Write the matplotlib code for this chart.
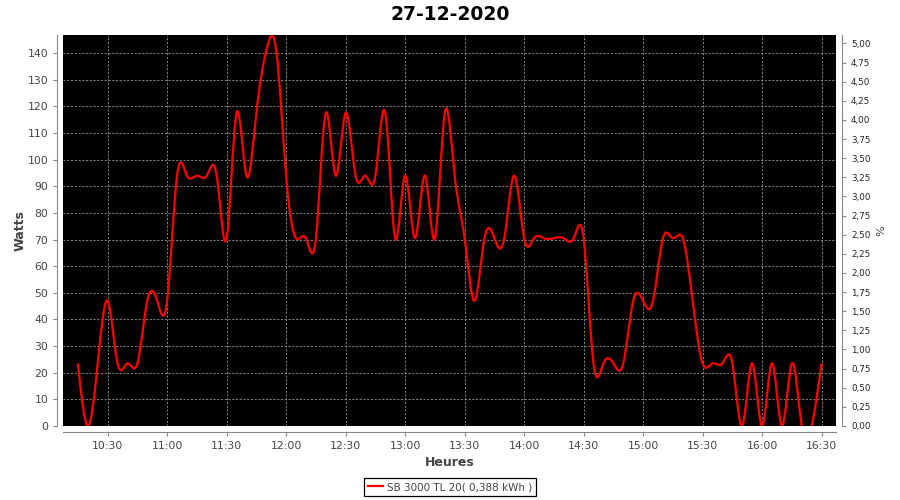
#!/usr/bin/env python3
"""Production du jour 27-12-2020 — courbe lissée (spline naturelle) façon JFreeChart."""

import matplotlib
matplotlib.use("Agg")
import matplotlib.pyplot as plt
import matplotlib.dates as mdates
import numpy as np
import pandas as pd
from matplotlib.lines import Line2D
from matplotlib.patches import PathPatch
from matplotlib.path import Path
from matplotlib.ticker import FuncFormatter

# ── données : une mesure toutes les 5 minutes, 10:15 → 16:30 ──
times = pd.date_range("2020-12-27 10:15", "2020-12-27 16:30", freq="5min")
watts = [
    23.5, 0, 23.5, 47, 23.5, 23.5, 23.5, 47, 47,               # 10:15 - 10:55
    47, 94, 94, 94, 94, 94, 70.5, 117.5, 94, 117.5, 141, 141,  # 11:00 - 11:55
    94, 70.5, 70.5, 70.5, 117.5, 94, 117.5, 94, 94, 94, 117.5, 70.5,  # 12:xx
    94, 70.5, 94, 70.5, 117.5, 94, 70.5, 47, 70.5, 70.5, 70.5, 94,    # 13:xx
    70.5, 70.5, 70.5, 70.5, 70.5, 70.5, 70.5, 23.5, 23.5, 23.5, 23.5, 47,  # 14:xx
    47, 47, 70.5, 70.5, 70.5, 47, 23.5, 23.5, 23.5, 23.5, 0, 23.5,    # 15:xx
    0, 23.5, 0, 23.5, 0, 0, 23.5,                              # 16:00 - 16:30
]
watt_ticks = list(range(0, 141, 10))
pct_ticks = [0, 0.25, 0.5, 0.75, 1, 1.25, 1.5, 1.75, 2, 2.25, 2.5, 2.75,
             3, 3.25, 3.5, 3.75, 4, 4.25, 4.5, 4.75, 5]
title = "27-12-2020"
serie_label = "SB 3000 TL 20( 0,388 kWh )"

TXT = "#444444"
AXE = "#888888"


def spline_path(x, y):
    """Spline cubique naturelle -> segments de Bézier (comme XYSplineRenderer)."""
    x = np.asarray(x, float)
    y = np.asarray(y, float)
    n = len(x)
    h = np.diff(x)
    A = np.zeros((n, n))
    r = np.zeros(n)
    A[0, 0] = A[-1, -1] = 1.0
    for i in range(1, n - 1):
        A[i, i - 1] = h[i - 1]
        A[i, i] = 2 * (h[i - 1] + h[i])
        A[i, i + 1] = h[i]
        r[i] = 6 * ((y[i + 1] - y[i]) / h[i] - (y[i] - y[i - 1]) / h[i - 1])
    M = np.linalg.solve(A, r)
    d = np.empty(n)
    d[:-1] = (y[1:] - y[:-1]) / h - h * (2 * M[:-1] + M[1:]) / 6
    d[-1] = (y[-1] - y[-2]) / h[-1] + h[-1] * (M[-2] + 2 * M[-1]) / 6

    verts = [(x[0], y[0])]
    codes = [Path.MOVETO]
    for i in range(n - 1):
        verts += [(x[i] + h[i] / 3, y[i] + h[i] * d[i] / 3),
                  (x[i + 1] - h[i] / 3, y[i + 1] - h[i] * d[i + 1] / 3),
                  (x[i + 1], y[i + 1])]
        codes += [Path.CURVE4] * 3
    return Path(verts, codes)


fig = plt.figure(figsize=(9, 5), dpi=100)
ax = fig.add_axes([0.07, 0.148, 0.8594, 0.782])
ax.set_facecolor("black")

xnum = mdates.date2num(times.to_pydatetime())
curve = PathPatch(spline_path(xnum, watts), facecolor="none", edgecolor="#ff0000",
                  linewidth=1.6, zorder=3, transform=ax.transData)
ax.add_patch(curve)

# marges de 2 % de chaque côté, comme JFreeChart
span = xnum[-1] - xnum[0]
ax.set_xlim(xnum[0] - 0.02 * span, xnum[-1] + 0.02 * span)
ax.set_ylim(0, 146.8)
ax.set_yticks(watt_ticks)
ax.xaxis.set_major_locator(mdates.MinuteLocator(byminute=[0, 30]))
ax.xaxis.set_major_formatter(mdates.DateFormatter("%H:%M"))

ax.grid(True, color="#9a9a9a", linewidth=0.6, linestyle=(0, (2.5, 2)))

for side in ("top", "right"):
    ax.spines[side].set_visible(False)
for side in ("left", "bottom"):
    ax.spines[side].set_position(("outward", 4))
    ax.spines[side].set_color(AXE)
ax.tick_params(colors=AXE, labelcolor=TXT, labelsize=7.8, length=3, width=0.8)

ax.set_xlabel("Heures", fontsize=9, fontweight="bold", color=TXT, labelpad=4)
ax.set_ylabel("Watts", fontsize=9, fontweight="bold", color=TXT, labelpad=1)

# axe de droite en %
ax2 = ax.twinx()
ax2.set_ylim(0, 5.11)
ax2.set_yticks(pct_ticks)
ax2.yaxis.set_major_formatter(FuncFormatter(lambda v, _: f"{v:.2f}".replace(".", ",")))
for side in ("top", "left", "bottom"):
    ax2.spines[side].set_visible(False)
ax2.spines["right"].set_position(("outward", 4))
ax2.spines["right"].set_color(AXE)
ax2.tick_params(colors=AXE, labelcolor="#222222", labelsize=6.3, length=3, width=0.8)
ax2.set_ylabel("%", fontsize=8, color=TXT, labelpad=4)

fig.suptitle(title, fontsize=13.5, fontweight="bold", color="black", y=0.99)

handle = Line2D([], [], color="#ff0000", linewidth=1.6)
leg = fig.legend([handle], [serie_label], loc="center", bbox_to_anchor=(0.5, 0.026),
                 fancybox=False, framealpha=1, edgecolor="black", fontsize=7.5,
                 handlelength=1.4, handletextpad=0.4, borderpad=0.35,
                 borderaxespad=0)
leg.get_frame().set_linewidth(0.9)
for t in leg.get_texts():
    t.set_color(TXT)

fig.savefig("out.png", dpi=100, facecolor="white")
